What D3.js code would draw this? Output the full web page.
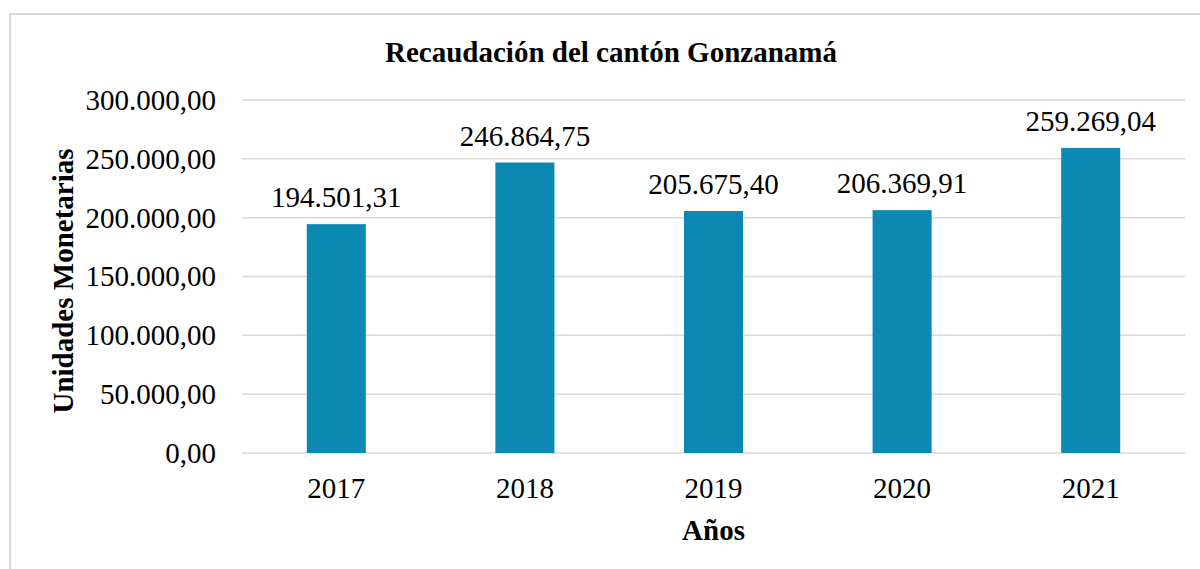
<!DOCTYPE html>
<html>
<head>
<meta charset="utf-8">
<script src="https://cdn.jsdelivr.net/npm/d3@7"></script>
<style>
  body { margin: 0; background: #fff; }
  svg text { font-family: "Liberation Serif", "Times New Roman", serif; fill: #000; }
</style>
</head>
<body>
<svg width="1200" height="569"></svg>
<script>
const years = ["2017", "2018", "2019", "2020", "2021"];
const values = [194501.31, 246864.75, 205675.40, 206369.91, 259269.04];
const yTicks = [0, 50000, 100000, 150000, 200000, 250000, 300000];

const titleText = "Recaudación del cantón Gonzanamá";
const xTitle = "Años";
const yTitle = "Unidades Monetarias";

const svg = d3.select("svg");

const plotLeft = 242, plotRight = 1185, plotTop = 100, plotBottom = 453;

// formato con punto de miles y coma decimal
const es = d3.formatLocale({ decimal: ",", thousands: ".", grouping: [3], currency: ["", ""] });
const fmt = es.format(",.2f");

const x = d3.scaleBand()
    .domain(years)
    .range([plotLeft, plotRight])
    .paddingInner(0.687)
    .paddingOuter(0.687 / 2);

const y = d3.scaleLinear()
    .domain([0, 300000])
    .range([plotBottom, plotTop]);

// marco
svg.append("rect")
    .attr("x", 10).attr("y", 14)
    .attr("width", 1210).attr("height", 600)
    .attr("fill", "none")
    .attr("stroke", "#d9d9d9")
    .attr("stroke-width", 2);

// lineas de cuadricula
svg.append("g")
    .selectAll("line")
    .data(yTicks)
    .enter().append("line")
    .attr("x1", plotLeft).attr("x2", plotRight)
    .attr("y1", d => y(d)).attr("y2", d => y(d))
    .attr("stroke", "#d9d9d9")
    .attr("stroke-width", 1.5);

// etiquetas eje y
svg.append("g")
    .selectAll("text")
    .data(yTicks)
    .enter().append("text")
    .attr("x", 216)
    .attr("y", d => y(d))
    .attr("dy", "0.34em")
    .attr("text-anchor", "end")
    .style("font-size", "29px")
    .text(d => fmt(d));

// barras
svg.append("g")
    .selectAll("rect")
    .data(values)
    .enter().append("rect")
    .attr("x", (d, i) => x(years[i]))
    .attr("y", d => y(d))
    .attr("width", x.bandwidth())
    .attr("height", d => y(0) - y(d))
    .attr("fill", "#0b89b2");

// valores sobre las barras
svg.append("g")
    .selectAll("text")
    .data(values)
    .enter().append("text")
    .attr("x", (d, i) => x(years[i]) + x.bandwidth() / 2)
    .attr("y", d => y(d) - 17)
    .attr("text-anchor", "middle")
    .style("font-size", "29px")
    .text(d => fmt(d));

// etiquetas eje x
svg.append("g")
    .selectAll("text")
    .data(years)
    .enter().append("text")
    .attr("x", d => x(d) + x.bandwidth() / 2)
    .attr("y", plotBottom + 45)
    .attr("text-anchor", "middle")
    .style("font-size", "29px")
    .text(d => d);

// titulos
svg.append("text")
    .attr("x", 611).attr("y", 62)
    .attr("text-anchor", "middle")
    .style("font-size", "29px")
    .style("font-weight", "bold")
    .text(titleText);

svg.append("text")
    .attr("x", (plotLeft + plotRight) / 2).attr("y", 540)
    .attr("text-anchor", "middle")
    .style("font-size", "29px")
    .style("font-weight", "bold")
    .text(xTitle);

svg.append("text")
    .attr("transform", "translate(73,281) rotate(-90)")
    .attr("text-anchor", "middle")
    .style("font-size", "29px")
    .style("font-weight", "bold")
    .text(yTitle);
</script>
</body>
</html>
